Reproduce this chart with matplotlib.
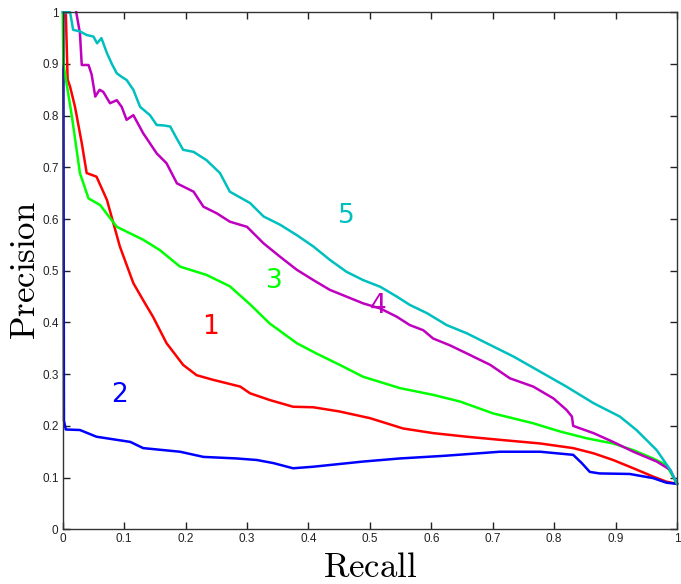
import numpy as np
import matplotlib.pyplot as plt
from matplotlib.ticker import FormatStrFormatter

plt.rcParams['mathtext.fontset'] = 'cm'

# curve 1 (red)
r1_x = [0.005, 0.008, 0.012, 0.020, 0.031, 0.039, 0.055, 0.072, 0.093, 0.115, 0.131, 0.147,
        0.169, 0.196, 0.218, 0.245, 0.289, 0.305, 0.337, 0.375, 0.408, 0.450, 0.500, 0.554,
        0.603, 0.658, 0.712, 0.777, 0.831, 0.864, 0.896, 0.929, 0.961, 0.983, 1.0]
p1_y = [1.0, 0.87, 0.856, 0.817, 0.747, 0.689, 0.682, 0.637, 0.547, 0.476, 0.443, 0.411,
        0.360, 0.318, 0.298, 0.289, 0.276, 0.263, 0.250, 0.237, 0.236, 0.228, 0.215, 0.195,
        0.186, 0.179, 0.173, 0.166, 0.157, 0.147, 0.134, 0.118, 0.102, 0.092, 0.088]

# curve 2 (blue)
r2_x = [0.001, 0.002, 0.005, 0.028, 0.055, 0.088, 0.110, 0.131, 0.191, 0.229, 0.283, 0.316,
        0.343, 0.375, 0.408, 0.489, 0.549, 0.620, 0.712, 0.777, 0.831, 0.845, 0.858, 0.874,
        0.923, 0.961, 0.983, 1.0]
p2_y = [1.0, 0.21, 0.193, 0.192, 0.179, 0.173, 0.169, 0.157, 0.150, 0.140, 0.137, 0.134,
        0.128, 0.118, 0.121, 0.131, 0.137, 0.142, 0.150, 0.150, 0.144, 0.128, 0.111, 0.108,
        0.107, 0.099, 0.090, 0.088]

# curve 3 (green)
r3_x = [0.0, 0.001, 0.015, 0.028, 0.042, 0.061, 0.088, 0.131, 0.158, 0.191, 0.234, 0.272,
        0.305, 0.337, 0.381, 0.413, 0.451, 0.489, 0.549, 0.603, 0.647, 0.701, 0.766, 0.810,
        0.853, 0.896, 0.929, 0.961, 0.983, 1.0]
p3_y = [1.0, 0.901, 0.798, 0.689, 0.640, 0.627, 0.585, 0.560, 0.540, 0.508, 0.492, 0.470,
        0.435, 0.398, 0.360, 0.340, 0.318, 0.295, 0.273, 0.260, 0.247, 0.224, 0.205, 0.189,
        0.176, 0.166, 0.153, 0.137, 0.124, 0.088]

# curve 4 (magenta)
r4_x = [0.022, 0.028, 0.031, 0.042, 0.047, 0.053, 0.060, 0.066, 0.077, 0.088, 0.096, 0.104,
        0.115, 0.131, 0.153, 0.169, 0.186, 0.213, 0.229, 0.251, 0.272, 0.300, 0.327, 0.354,
        0.381, 0.408, 0.435, 0.462, 0.489, 0.517, 0.544, 0.565, 0.587, 0.603, 0.630, 0.658,
        0.696, 0.728, 0.766, 0.799, 0.820, 0.829, 0.831, 0.864, 0.896, 0.929, 0.967, 0.989, 1.0]
p4_y = [1.0, 0.96, 0.898, 0.898, 0.880, 0.837, 0.850, 0.846, 0.824, 0.830, 0.817, 0.792,
        0.801, 0.766, 0.727, 0.708, 0.669, 0.653, 0.624, 0.611, 0.595, 0.585, 0.553, 0.527,
        0.502, 0.482, 0.463, 0.450, 0.437, 0.427, 0.411, 0.395, 0.385, 0.369, 0.356, 0.340,
        0.318, 0.292, 0.276, 0.253, 0.231, 0.218, 0.200, 0.186, 0.169, 0.150, 0.131, 0.115, 0.088]

# curve 5 (cyan)
r5_x = [0.0, 0.012, 0.017, 0.028, 0.039, 0.050, 0.056, 0.063, 0.072, 0.080, 0.088, 0.096,
        0.104, 0.115, 0.126, 0.142, 0.153, 0.165, 0.175, 0.186, 0.196, 0.213, 0.234, 0.256,
        0.272, 0.305, 0.327, 0.354, 0.381, 0.408, 0.435, 0.462, 0.489, 0.517, 0.544, 0.565,
        0.593, 0.625, 0.658, 0.690, 0.734, 0.777, 0.820, 0.864, 0.907, 0.934, 0.967, 0.989, 1.0]
p5_y = [1.0, 1.0, 0.966, 0.963, 0.956, 0.953, 0.940, 0.950, 0.921, 0.900, 0.882, 0.875,
        0.869, 0.850, 0.817, 0.801, 0.782, 0.781, 0.779, 0.755, 0.734, 0.730, 0.714, 0.689,
        0.653, 0.631, 0.605, 0.589, 0.569, 0.547, 0.521, 0.498, 0.482, 0.469, 0.450, 0.434,
        0.418, 0.395, 0.379, 0.360, 0.334, 0.305, 0.276, 0.244, 0.218, 0.192, 0.153, 0.115, 0.088]

curve_names = ['1', '2', '3', '4', '5']
curve_colors = ['#ff0000', '#0000ff', '#00ff00', '#bf00bf', '#00bfbf']
label_xy = [(0.240, 0.392), (0.092, 0.260), (0.344, 0.481), (0.514, 0.431), (0.462, 0.606)]

curves = [(r1_x, p1_y), (r2_x, p2_y), (r3_x, p3_y), (r4_x, p4_y), (r5_x, p5_y)]

fig = plt.figure(figsize=(6.81, 5.84), dpi=100)
ax = fig.add_axes([0.0921, 0.0937, 0.9020, 0.8853])

for (xs, ys), name, col, (lx, ly) in zip(curves, curve_names, curve_colors, label_xy):
    ax.plot(xs, ys, color=col, lw=1.8, clip_on=False)
    ax.text(lx, ly, name, color=col, fontsize=19, family='DejaVu Sans',
            ha='center', va='center')

ax.set_xlim(0, 1)
ax.set_ylim(0, 1)
ticks = np.arange(0, 1.01, 0.1)
ax.set_xticks(ticks)
ax.set_yticks(ticks)
ax.xaxis.set_major_formatter(FormatStrFormatter('%g'))
ax.yaxis.set_major_formatter(FormatStrFormatter('%g'))
ax.tick_params(direction='in', top=True, right=True, length=5, width=1,
               labelsize=8.5, pad=3, colors='#222222')
for lab in ax.get_xticklabels() + ax.get_yticklabels():
    lab.set_family('Liberation Sans')
for sp in ax.spines.values():
    sp.set_color('#333333')
    sp.set_linewidth(1.0)

ax.set_xlabel(r'$\mathrm{Recall}$', fontsize=25, labelpad=3)
ax.set_ylabel(r'$\mathrm{Precision}$', fontsize=25, labelpad=0)

fig.savefig('out.png', dpi=100)
